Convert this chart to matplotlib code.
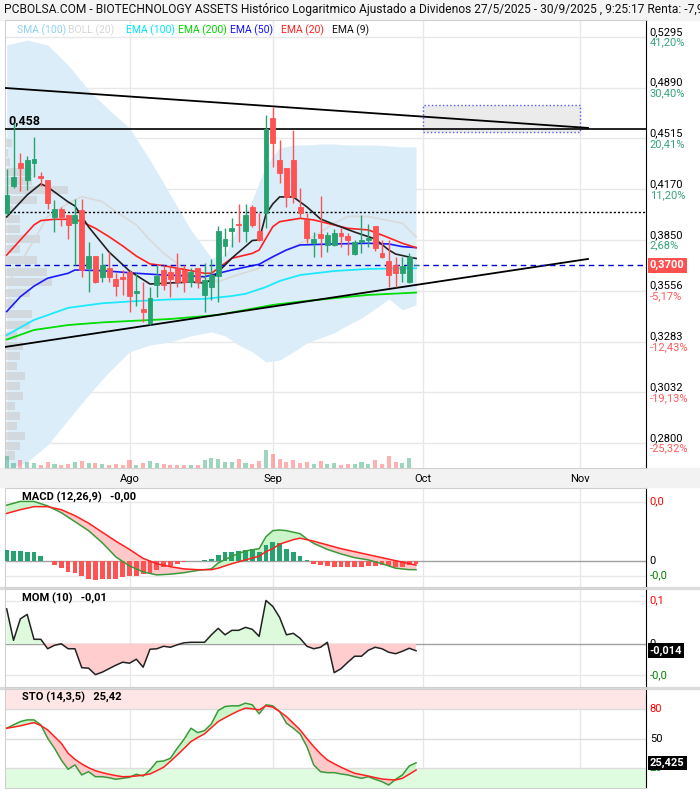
"""
Biotechnology Assets - log candlestick chart with EMAs, MACD, MOM and STO panels.
"""
import numpy as np
import pandas as pd
import matplotlib
matplotlib.use("Agg")
import matplotlib.pyplot as plt
from matplotlib.patches import Rectangle
from matplotlib.transforms import blended_transform_factory
from matplotlib.ticker import NullLocator

plt.rcParams['font.family'] = ['Roboto', 'DejaVu Sans']

# ---------------- data ----------------
dates = pd.bdate_range('2025-07-08', '2025-09-30')
month_nums = [8, 9, 10, 11]
month_names = ['Ago', 'Sep', 'Oct', 'Nov']

opens = np.array([0.4017, 0.4190, 0.4345, 0.4230, 0.4345, 0.4257, 0.4230, 0.3992, 0.4042, 0.4004,
                  0.3954, 0.4036, 0.3685, 0.3754, 0.3633, 0.3685, 0.3622, 0.3633, 0.3662, 0.3543,
                  0.3455, 0.3380, 0.3587, 0.3673, 0.3662, 0.3685, 0.3673, 0.3604, 0.3685, 0.3532,
                  0.3576, 0.3639, 0.3814, 0.3905, 0.3948, 0.3905, 0.4055, 0.3905, 0.4017, 0.4662,
                  0.4365, 0.4311, 0.4365, 0.4055, 0.3973, 0.3832, 0.3886, 0.3820, 0.3820, 0.3893,
                  0.3874, 0.3766, 0.3838, 0.3850, 0.3936, 0.3772, 0.3725, 0.3702, 0.3656, 0.3604, 0.3700])
highs = np.array([0.4304, 0.4626, 0.4413, 0.4392, 0.4526, 0.4284, 0.4230, 0.4100, 0.4055, 0.4004,
                  0.4106, 0.4106, 0.3838, 0.3754, 0.3772, 0.3778, 0.3656, 0.3673, 0.3673, 0.3656,
                  0.3604, 0.3576, 0.3702, 0.3702, 0.3702, 0.3772, 0.3702, 0.3685, 0.3685, 0.3714,
                  0.3737, 0.3936, 0.3923, 0.3986, 0.4074, 0.4074, 0.4067, 0.4017, 0.4684, 0.4743,
                  0.4504, 0.4311, 0.4575, 0.4177, 0.4017, 0.3899, 0.4126, 0.3899, 0.3917, 0.3923,
                  0.3893, 0.3850, 0.4004, 0.3948, 0.3936, 0.3850, 0.3850, 0.3748, 0.3748, 0.3772, 0.3700])
lows = np.array([0.4004, 0.4177, 0.4158, 0.4164, 0.4250, 0.4190, 0.4042, 0.3899, 0.3936, 0.3856,
                 0.3702, 0.3633, 0.3549, 0.3599, 0.3604, 0.3604, 0.3527, 0.3532, 0.3439, 0.3472,
                 0.3385, 0.3369, 0.3521, 0.3560, 0.3521, 0.3576, 0.3549, 0.3576, 0.3571, 0.3439,
                 0.3504, 0.3493, 0.3754, 0.3808, 0.3838, 0.3838, 0.3930, 0.3844, 0.3923, 0.4317,
                 0.4210, 0.4055, 0.4080, 0.3986, 0.3832, 0.3748, 0.3748, 0.3778, 0.3814, 0.3808,
                 0.3760, 0.3760, 0.3772, 0.3808, 0.3784, 0.3742, 0.3576, 0.3576, 0.3604, 0.3599, 0.3700])
closes = np.array([0.4132, 0.4250, 0.4311, 0.4365, 0.4372, 0.4244, 0.4080, 0.4042, 0.3992, 0.3942,
                   0.4004, 0.3673, 0.3754, 0.3604, 0.3702, 0.3633, 0.3582, 0.3622, 0.3527, 0.3554,
                   0.3439, 0.3515, 0.3639, 0.3587, 0.3622, 0.3604, 0.3604, 0.3662, 0.3604, 0.3616,
                   0.3644, 0.3905, 0.3856, 0.3923, 0.3942, 0.4004, 0.3942, 0.3850, 0.4582, 0.4483,
                   0.4277, 0.4119, 0.4119, 0.4017, 0.3862, 0.3856, 0.3862, 0.3880, 0.3893, 0.3874,
                   0.3850, 0.3838, 0.3850, 0.3862, 0.3802, 0.3748, 0.3644, 0.3656, 0.3696, 0.3748, 0.3700])
volume = np.array([12, 5, 8, 6, 5, 3, 6, 4, 3, 4, 6, 7, 5, 5, 4, 3, 4, 3, 8, 3,
                   5, 7, 5, 4, 3, 3, 3, 3, 3, 8, 10, 9, 6, 6, 9, 5, 4, 7, 18, 14,
                   9, 6, 8, 5, 6, 4, 7, 4, 5, 3, 4, 4, 6, 4, 8, 4, 12, 6, 5, 10, 0])

# moving averages / bands
ema9_idx = [0, 3, 5, 6, 9, 10, 12, 15, 18, 21, 24, 27, 29, 30, 31, 33, 36, 37, 38, 39, 40, 42, 44, 46, 48, 51, 54, 56, 57, 59, 60]
ema9 = [0.3992, 0.4132, 0.4204, 0.4184, 0.4087, 0.4061, 0.3930, 0.3778, 0.3667, 0.3593, 0.3599, 0.3604, 0.3599, 0.3616, 0.3662,
        0.3742, 0.3847, 0.3850, 0.4010, 0.4074, 0.4119, 0.4119, 0.4055, 0.3979, 0.3945, 0.3898, 0.3856, 0.3790, 0.3766, 0.3748, 0.3740]
ema20_idx = [0, 2, 4, 5, 7, 10, 11, 13, 15, 17, 19, 21, 23, 25, 27, 29, 30, 31, 33, 36, 37, 38, 39, 40, 43, 45, 48, 50, 53, 55, 58, 60]
ema20 = [0.3760, 0.3850, 0.3942, 0.3969, 0.3977, 0.3977, 0.3962, 0.3921, 0.3870, 0.3814, 0.3754, 0.3708, 0.3698, 0.3683, 0.3669, 0.3654,
         0.3654, 0.3683, 0.3741, 0.3770, 0.3790, 0.3860, 0.3931, 0.3962, 0.3983, 0.3973, 0.3942, 0.3921, 0.3911, 0.3880, 0.3830, 0.3804]
ema50_idx = [0, 2, 4, 6, 9, 10, 14, 16, 19, 23, 26, 29, 30, 33, 37, 39, 41, 43, 48, 53, 56, 58, 60]
ema50 = [0.3441, 0.3522, 0.3581, 0.3626, 0.3654, 0.3673, 0.3669, 0.3663, 0.3654, 0.3644, 0.3640, 0.3634, 0.3644, 0.3673, 0.3706,
         0.3750, 0.3790, 0.3820, 0.3826, 0.3830, 0.3826, 0.3810, 0.3804]
ema100_idx = [0, 4, 9, 14, 19, 24, 29, 33, 35, 38, 40, 43, 48, 53, 60]
ema100 = [0.3316, 0.3396, 0.3461, 0.3486, 0.3498, 0.3507, 0.3510, 0.3526, 0.3538, 0.3576, 0.3610, 0.3644, 0.3667, 0.3679, 0.3683]
ema200_idx = [0, 4, 9, 14, 19, 24, 31, 39, 43, 48, 53, 60]
ema200 = [0.3293, 0.3343, 0.3369, 0.3383, 0.3392, 0.3401, 0.3423, 0.3477, 0.3495, 0.3514, 0.3532, 0.3545]
boll_mid_idx = [0, 2, 4, 6, 9, 11, 14, 16, 19, 21, 23, 26, 28, 30, 31, 33, 37, 40, 43, 45, 48, 50, 53, 55, 58, 60]
boll_mid = [0.3587, 0.3712, 0.3850, 0.3995, 0.4078, 0.4121, 0.4089, 0.4025, 0.3942, 0.3850, 0.3770, 0.3683, 0.3634, 0.3616, 0.3606,
            0.3634, 0.3683, 0.3770, 0.3830, 0.3870, 0.3953, 0.3995, 0.3995, 0.3977, 0.3953, 0.3870]
band_idx = [0, 3, 6, 9, 12, 15, 18, 21, 24, 27, 30, 32, 34, 36, 38, 40, 42, 44, 46, 48, 50, 52, 54, 56, 58, 60]
band_upper = [0.5228, 0.5269, 0.5228, 0.5067, 0.4871, 0.4721, 0.4590, 0.4365, 0.4132, 0.3911, 0.3742, 0.3760, 0.3942, 0.4100, 0.4331,
              0.4448, 0.4469, 0.4469, 0.4476, 0.4476, 0.4469, 0.4469, 0.4469, 0.4462, 0.4455, 0.4455]
band_lower = [0.2684, 0.2718, 0.2791, 0.2903, 0.3019, 0.3130, 0.3230, 0.3265, 0.3281, 0.3312, 0.3333, 0.3312, 0.3265, 0.3230, 0.3179,
              0.3189, 0.3230, 0.3276, 0.3302, 0.3328, 0.3369, 0.3406, 0.3456, 0.3510, 0.3450, 0.3477]

# volume profile (left side)
profile_price = np.array([0.4483, 0.4413, 0.4351, 0.4284, 0.4224, 0.4164, 0.4100, 0.4036, 0.3979, 0.3917, 0.3856, 0.3796,
                          0.3731, 0.3662, 0.3604, 0.3543, 0.3483, 0.3428, 0.3369, 0.3312, 0.3260, 0.3209, 0.3159, 0.3110,
                          0.3062, 0.3014, 0.2967, 0.2921, 0.2876, 0.2831, 0.2787, 0.2744])
profile_vol = np.array([7, 3, 5, 27, 27, 63, 32, 8, 15, 15, 35, 15, 32, 42, 47, 25, 10, 27, 25, 12, 18, 15, 12, 20,
                        15, 18, 10, 15, 12, 20, 15, 10])

# drawn levels and trend lines
trend_hi_idx = [-0.25, 85.2]
trend_hi = [0.4887, 0.4590]
trend_lo_idx = [-0.25, 85.2]
trend_lo = [0.3255, 0.3737]
level_line = 0.458
dotted_level = 0.4020
last_price = 0.3700
zone_idx = [61, 84]
zone_price = [0.4561, 0.4758]

price_ticks = [0.5295, 0.4890, 0.4515, 0.4170, 0.3850, 0.3556, 0.3283, 0.3032, 0.2800]
price_pcts = [41.20, 30.40, 20.41, 11.20, 2.68, -5.17, -12.43, -19.13, -25.32]

# MACD (12,26,9), values in units of 1e-4
macd_idx = [0, 2, 4, 6, 8, 10, 12, 14, 16, 18, 20, 22, 24, 26, 28, 30, 31, 33, 35, 37, 38, 39, 40, 41, 42, 43, 44, 45,
            47, 49, 51, 53, 55, 57, 59, 60]
macd_e4 = [74, 79, 79, 73, 64, 52, 40, 24, 5, -7, -15, -19, -18, -16, -13, -11, -3, 6, 13, 16, 32, 40, 41, 40, 38, 36, 29, 23,
           15, 9, 4, 1, -4, -10, -12, -12]
signal_e4 = [63, 68, 72, 72, 68, 60, 50, 38, 26, 15, 3, -4, -8, -11, -12, -12, -10, -4, 1, 6, 12, 16, 22, 25, 28, 30, 28, 26,
             21, 16, 12, 8, 4, 0, -4, -6]
hist_e4 = [14, 13, 13, 12, 11, 6, -1, -6, -10, -15, -17, -21, -24, -26, -24, -24, -24, -22, -21, -20,
           -18, -16, -12, -9, -7, -4, -2, -0.5, 0.2, 1, 2, 8, 11, 12, 13, 14, 15, 12, 21, 25,
           23, 16, 12, 6, 0.3, -4, -6, -7, -8, -8, -8, -9, -8, -7, -7, -6, -7, -9, -8, -6, -4]
macd_grid = [0.00787, 0.0, -0.0020]
macd_grid_labels = ['0,0', '0', '-0,0']

# Momentum (10)
mom = np.array([0.070, 0.007, 0.050, 0.059, 0.009, 0.009, -0.010, -0.003, 0.000, -0.010,
                -0.010, -0.048, -0.049, -0.062, -0.057, -0.050, -0.043, -0.037, -0.039, -0.031,
                -0.047, -0.011, -0.010, -0.005, -0.007, -0.002, 0.002, 0.003, 0.003, 0.003,
                0.018, 0.031, 0.018, 0.027, 0.027, 0.033, 0.029, 0.015, 0.087, 0.075,
                0.053, 0.018, 0.021, 0.011, -0.005, -0.010, -0.007, 0.003, -0.058, -0.050,
                -0.037, -0.025, -0.025, -0.013, -0.007, -0.010, -0.017, -0.020, -0.015, -0.009, -0.014])
mom_grid = [0.0866, 0.0, -0.0634]
mom_grid_labels = ['0,1', '0', '-0,0']

# Stochastic (14,3,5)
sto_k = np.array([60.4, 63.8, 67.1, 68.8, 68.8, 63.8, 50.3, 40.2, 28.3, 18.9,
                  23.3, 13.2, 16.5, 11.4, 11.4, 10.4, 8.8, 9.8, 10.8, 13.9,
                  12.1, 18.2, 26.6, 27.3, 30.1, 40.2, 49.3, 60.4, 56.0, 58.0,
                  64.8, 78.2, 82.3, 83.0, 83.0, 85.7, 84.0, 74.9, 84.0, 83.0,
                  77.2, 65.5, 60.4, 54.7, 41.8, 23.3, 16.5, 15.5, 15.5, 14.2,
                  13.2, 11.4, 9.8, 11.4, 8.8, 6.4, 3.0, 8.8, 13.2, 22.3, 25.42])
sto_d = np.array([60.4, 61.5, 62.8, 64.5, 66.1, 63.0, 58.7, 52.0, 45.2, 35.1,
                  29.0, 24.3, 20.5, 17.5, 15.5, 13.9, 12.5, 11.4, 11.6, 12.1,
                  13.0, 14.2, 17.5, 21.0, 27.0, 33.4, 40.0, 46.9, 51.0, 54.7,
                  61.0, 67.1, 71.0, 74.6, 78.0, 80.7, 80.0, 78.9, 83.0, 81.7,
                  77.2, 72.2, 65.5, 58.7, 50.0, 41.8, 34.5, 28.3, 24.5, 21.0,
                  17.8, 14.9, 13.5, 12.1, 10.5, 9.1, 8.5, 8.1, 9.8, 13.9, 18.2])
sto_grid = [80, 50, 20]

title = ("PCBOLSA.COM - BIOTECHNOLOGY ASSETS Histórico Logaritmico Ajustado a Dividenos "
         "27/5/2025 - 30/9/2025 , 9:25:17 Renta: -7,9")
legend_items = [('SMA (100)', '#8fd0f5'), ('BOLL (20)', '#d6d6d6'), ('EMA (100)', '#00e5ff'),
                ('EMA (200)', '#00d400'), ('EMA (50)', '#1010ff'), ('EMA (20)', '#ff1f1f'), ('EMA (9)', '#111111')]
legend_gaps = [2, 12, 3, 3, 8, 8, 0]

# ---------------- layout helpers ----------------
W, H = 700, 792
GREEN = '#26a270'
RED = '#ff5252'
PCT_GREEN = '#35a57a'
PCT_RED = '#ff5a5a'
GRID = '#e8e8e8'
XLIM = (-0.25, 93.7)


def px_axes(fig, x0, y0, x1, y1):
    return fig.add_axes([x0 / W, 1 - y1 / H, (x1 - x0) / W, (y1 - y0) / H])


def fxy(x, y):
    return x / W, 1 - y / H


def style_panel(a, month_pos):
    a.set_xlim(*XLIM)
    a.yaxis.set_major_locator(NullLocator())
    a.yaxis.set_minor_locator(NullLocator())
    for s in ('left', 'top', 'bottom'):
        a.spines[s].set_color('#d0d0d0')
    a.spines['right'].set_color('black')
    for p in month_pos:
        a.axvline(p, color=GRID, lw=1, zorder=0)


def right_label(a, y, text, color='black', box=None):
    tr = blended_transform_factory(a.transAxes, a.transData)
    kw = dict(transform=tr, va='center', ha='left', fontsize=8, color=color, clip_on=False)
    if box:
        kw.update(color='white', fontweight='bold',
                  bbox=dict(facecolor=box, edgecolor='none', pad=1.5))
    a.text(1.006, y, text, **kw)


n = len(dates)
idx = np.arange(n)
cal = pd.bdate_range(dates[0], '2025-11-28')
month_pos = [int(np.argmax(cal.month == m)) for m in month_nums]
up = closes >= opens
cols = np.where(up, GREEN, RED)

fig = plt.figure(figsize=(W / 100, H / 100), dpi=100)
fig.patch.set_facecolor('white')
renderer = fig.canvas.get_renderer()

# header and separator strips
fig.patches.append(Rectangle(fxy(0, 20), 1, 20 / H, transform=fig.transFigure, color='#f4f4f4', zorder=-5))
fig.patches.append(Rectangle(fxy(0, 487), 1, 19 / H, transform=fig.transFigure, color='#f2f2f2', zorder=-5))
for y0, y1 in [(587, 589), (687, 689)]:
    fig.patches.append(Rectangle(fxy(0, y1), 1, (y1 - y0) / H, transform=fig.transFigure, color='#dcdcdc', zorder=-5))

# title sized so the visible part ends at the right edge, like the original
t = fig.text(*fxy(4, 10), title, fontsize=9, va='center', ha='left', color='#111111')
tw = t.get_window_extent(renderer).width
t.set_fontsize(9 * 700 / tw)

# ---------------- main price panel ----------------
ax = px_axes(fig, 5, 20, 646, 468)
ax.set_yscale('log')
ax.set_ylim(0.2692, 0.5437)
style_panel(ax, month_pos)
ax.yaxis.set_minor_formatter(plt.NullFormatter())
ax.set_xticks(month_pos)
ax.set_xticklabels(month_names, fontsize=8)
ax.tick_params(axis='x', length=0, pad=4)

tr = blended_transform_factory(ax.transAxes, ax.transData)
for p, pct in zip(price_ticks, price_pcts):
    ax.axhline(p, color=GRID, lw=1, zorder=0)
    ax.text(1.006, p, f'{p:.4f}'.replace('.', ','), transform=tr, va='bottom', ha='left', fontsize=8)
    ax.text(1.006, p * 0.999, f'{pct:.2f}%'.replace('.', ','), transform=tr, va='top', ha='left',
            fontsize=8, color=PCT_GREEN if pct > 0 else PCT_RED)

ax.fill_between(band_idx, band_lower, band_upper, color='#dcedfa', lw=0, zorder=1)

for p, v in zip(profile_price, profile_vol):
    lo, hi = p * np.exp(-0.0068), p * np.exp(0.0068)
    ax.add_patch(Rectangle((0, lo), v / 641, hi - lo, transform=tr, facecolor='#c8c8c8',
                           alpha=0.55, lw=0, zorder=2))

ax.plot(boll_mid_idx, boll_mid, color='#dadada', lw=1.3, zorder=3)
ax.plot(ema200_idx, ema200, color='#00dd00', lw=1.3, zorder=3)
ax.plot(ema100_idx, ema100, color='#1ee8ff', lw=1.3, zorder=3)
ax.plot(ema50_idx, ema50, color='#1a1aff', lw=1.2, zorder=3)
ax.plot(ema20_idx, ema20, color='#ff2020', lw=1.2, zorder=3)
ax.plot(ema9_idx, ema9, color='#222222', lw=1.2, zorder=3)

ax.plot(trend_hi_idx, trend_hi, color='black', lw=1.3, zorder=4)
ax.plot(trend_lo_idx, trend_lo, color='black', lw=1.3, zorder=4)
ax.axhline(level_line, color='black', lw=1.2, zorder=4)
ax.text(0.005, level_line * 1.004, '0,458', transform=tr, va='bottom', ha='left',
        fontsize=9, fontweight='bold')
ax.axhline(dotted_level, color='black', lw=1, ls=(0, (1.5, 1.5)), zorder=4)
ax.axhline(last_price, color='#0000cc', lw=1, ls=(0, (4, 3)), zorder=4)
right_label(ax, last_price, '0,3700', box='#ff5050')
ax.add_patch(Rectangle((zone_idx[0], zone_price[0]), zone_idx[1] - zone_idx[0], zone_price[1] - zone_price[0],
                       facecolor='#e6e6e6', alpha=0.8, edgecolor='#3333ff', ls=':', lw=1, zorder=3))

ax.vlines(idx, lows, highs, colors=cols, lw=1, zorder=5)
ax.bar(idx, closes - opens, bottom=opens, width=0.72, color=cols, edgecolor=cols, lw=0.6, zorder=6)

axv = ax.twinx()
axv.set_ylim(0, 448)
axv.set_xlim(*XLIM)
axv.bar(idx, volume, width=0.6, color=cols, alpha=0.45, lw=0)
axv.set_yticks([])
for s in axv.spines.values():
    s.set_visible(False)

# legend row, laid out one item after the other
x = 17
for (txt, c), gap in zip(legend_items, legend_gaps):
    lt = fig.text(*fxy(x, 30), txt, color=c, fontsize=7.5, va='center', ha='left')
    x += lt.get_window_extent(renderer).width + gap

# ---------------- MACD ----------------
ax1 = px_axes(fig, 5, 488, 646, 587)
style_panel(ax1, month_pos)
ax1.set_ylim(-0.00351, 0.00969)
ax1.set_xticks([])
m = np.array(macd_e4) / 1e4
s = np.array(signal_e4) / 1e4
h = np.array(hist_e4) / 1e4
for g in macd_grid[::2]:
    ax1.axhline(g, color=GRID, lw=1, zorder=0)
ax1.axhline(0, color='#a0a0a0', lw=1, zorder=1)
ax1.fill_between(macd_idx, m, s, where=m >= s, interpolate=True, color='#c9f5c9', lw=0, zorder=2)
ax1.fill_between(macd_idx, m, s, where=m < s, interpolate=True, color='#ffc9c9', lw=0, zorder=2)
ax1.bar(idx, h, width=0.7, color=np.where(h >= 0, GREEN, RED), zorder=3)
ax1.plot(macd_idx, m, color='#3a9a3a', lw=1.1, zorder=4)
ax1.plot(macd_idx, s, color='#ff2020', lw=1.1, zorder=4)
for g, lab, c in zip(macd_grid, macd_grid_labels, ['red', 'black', 'green']):
    right_label(ax1, g, lab, color=c)
fig.text(*fxy(22, 497), 'MACD (12,26,9)   -0,00', fontsize=8, fontweight='bold', va='center')

# ---------------- MOM ----------------
ax2 = px_axes(fig, 5, 589, 646, 687)
style_panel(ax2, month_pos)
ax2.set_ylim(-0.0868, 0.11)
ax2.set_xticks([])
for g in mom_grid[::2]:
    ax2.axhline(g, color=GRID, lw=1, zorder=0)
ax2.axhline(0, color='#a0a0a0', lw=1, zorder=1)
ax2.fill_between(idx, mom, 0, where=mom >= 0, interpolate=True, color='#ddfadd', lw=0, zorder=2)
ax2.fill_between(idx, mom, 0, where=mom < 0, interpolate=True, color='#ffcdcd', lw=0, zorder=2)
ax2.plot(idx, mom, color='#222222', lw=1.1, zorder=4)
for g, lab, c in zip(mom_grid, mom_grid_labels, ['red', 'black', 'green']):
    right_label(ax2, g, lab, color=c)
right_label(ax2, mom[-1], '-0,014', box='black')
fig.text(*fxy(22, 598), 'MOM (10)   -0,01', fontsize=8, fontweight='bold', va='center')

# ---------------- STO ----------------
ax3 = px_axes(fig, 5, 689, 646, 788)
style_panel(ax3, month_pos)
ax3.set_ylim(0, 100)
ax3.set_xticks([])
ax3.axhspan(80, 100, color='#ffe6e6', lw=0, zorder=0)
ax3.axhspan(0, 20, color='#e0fce0', lw=0, zorder=0)
for g in sto_grid:
    ax3.axhline(g, color='#dddddd', lw=1, zorder=1)
ax3.fill_between(idx, sto_k, sto_d, where=sto_k >= sto_d, interpolate=True, color='#c9f5c9', lw=0, zorder=2)
ax3.fill_between(idx, sto_k, sto_d, where=sto_k < sto_d, interpolate=True, color='#ffc9c9', lw=0, zorder=2)
ax3.plot(idx, sto_k, color='#3a9a3a', lw=1.1, zorder=4)
ax3.plot(idx, sto_d, color='#ff2020', lw=1.1, zorder=4)
for g, c in zip(sto_grid, ['red', 'black', 'green']):
    right_label(ax3, g, str(g), color=c)
right_label(ax3, sto_k[-1], '25,425', box='black')
fig.text(*fxy(22, 697), 'STO (14,3,5)   25,42', fontsize=8, fontweight='bold', va='center')

fig.savefig('out.png', dpi=100)
